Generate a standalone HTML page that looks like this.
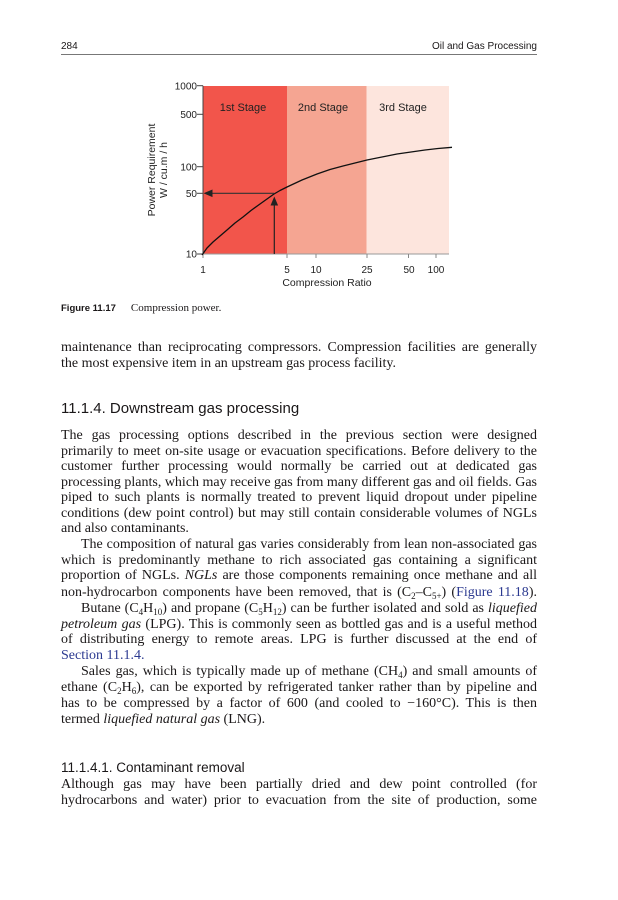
<!DOCTYPE html>
<html><head><meta charset="utf-8">
<style>
html,body{margin:0;padding:0;background:#fff;}
body{width:618px;height:900px;position:relative;overflow:hidden;color:#1a1718;}
.hd{position:absolute;font-family:"Liberation Sans","DejaVu Sans",sans-serif;font-size:10px;top:41px;}
.rule{position:absolute;left:61px;width:476px;top:54px;height:0;border-top:1px solid #777;}
.l{position:absolute;left:61px;width:476px;font-family:"Liberation Serif",serif;font-size:14px;line-height:16px;height:16px;white-space:nowrap;text-align:justify;text-align-last:justify;}
.l.e{text-align:left;text-align-last:left;}
.ind{display:inline-block;width:20px;}
.b{color:#2b3990;}
sub{font-size:9px;line-height:0;vertical-align:-3px;}
.h{position:absolute;left:61px;font-family:"Liberation Sans","DejaVu Sans",sans-serif;white-space:nowrap;}
.cap{position:absolute;top:298px;left:61px;white-space:nowrap;}
</style></head><body>
<div class="hd" style="left:61px;">284</div>
<div class="hd" style="right:81px;">Oil and Gas Processing</div>
<div class="rule"></div>

<svg style="position:absolute;left:0;top:0" width="618" height="300" xmlns="http://www.w3.org/2000/svg">
<rect x="203" y="86" width="84" height="168" fill="#f2554b"/>
<rect x="287" y="86" width="79.5" height="168" fill="#f5a592"/>
<rect x="366.5" y="86" width="82.5" height="168" fill="#fde5dd"/>
<g font-family="Liberation Sans, Arial, sans-serif" fill="#222">
<text x="243" y="111" font-size="11" text-anchor="middle">1st Stage</text>
<text x="323" y="111" font-size="11" text-anchor="middle">2nd Stage</text>
<text x="403" y="111" font-size="11" text-anchor="middle">3rd Stage</text>
</g>
<line x1="203" y1="85.7" x2="203" y2="254.5" stroke="#444" stroke-width="1"/>
<line x1="203" y1="254" x2="449" y2="254" stroke="#999" stroke-width="1"/>
<g stroke="#444" stroke-width="1">
<line x1="197" y1="85.7" x2="203" y2="85.7"/>
<line x1="197" y1="114.3" x2="203" y2="114.3"/>
<line x1="197" y1="166.7" x2="203" y2="166.7"/>
<line x1="197" y1="193.3" x2="203" y2="193.3"/>
<line x1="197" y1="254" x2="203" y2="254"/>
</g>
<g stroke="#888" stroke-width="1">
<line x1="203" y1="254" x2="203" y2="258"/>
<line x1="287" y1="254" x2="287" y2="258"/>
<line x1="316" y1="254" x2="316" y2="258"/>
<line x1="367" y1="254" x2="367" y2="258"/>
<line x1="408.5" y1="254" x2="408.5" y2="258"/>
<line x1="436" y1="254" x2="436" y2="258"/>
</g>
<g font-family="Liberation Sans, Arial, sans-serif" font-size="10" fill="#222">
<text x="197" y="89.5" text-anchor="end">1000</text>
<text x="197" y="118" text-anchor="end">500</text>
<text x="197" y="170.5" text-anchor="end">100</text>
<text x="197" y="197" text-anchor="end">50</text>
<text x="197" y="257.5" text-anchor="end">10</text>
<text x="203" y="273" text-anchor="middle">1</text>
<text x="287" y="273" text-anchor="middle">5</text>
<text x="316" y="273" text-anchor="middle">10</text>
<text x="367" y="273" text-anchor="middle">25</text>
<text x="409" y="273" text-anchor="middle">50</text>
<text x="436" y="273" text-anchor="middle">100</text>
<text x="327" y="286" text-anchor="middle" font-size="10.5">Compression Ratio</text>
<text transform="translate(155,170) rotate(-90)" text-anchor="middle" font-size="10.5">Power Requirement</text>
<text transform="translate(167,170) rotate(-90)" text-anchor="middle" font-size="10.5">W / cu.m / h</text>
</g>
<polyline fill="none" stroke="#111" stroke-width="1.3" stroke-linejoin="round" points="202,255 207,248 213,242 220,236 227,230 235,223 243,217 251,210.5 260,204 267,199 274,194 280,190.5 287,187 302,180 317,174 330,169.5 343,166 355,163 367,160 382,157 397,154 411,152 425,150 438,148.5 452,147.3"/>
<line x1="274.3" y1="254" x2="274.3" y2="204" stroke="#222" stroke-width="1.2"/>
<polygon points="274.3,196.5 270.5,205.5 278.1,205.5" fill="#222"/>
<line x1="211" y1="193.3" x2="274.3" y2="193.3" stroke="#333" stroke-width="1.2"/>
<polygon points="203.5,193.3 212.5,189.5 212.5,197.1" fill="#222"/>
</svg>

<div class="cap"><span style="font-family:'Liberation Sans','DejaVu Sans',sans-serif;font-weight:bold;font-size:9.5px;">Figure 11.17</span><span style="font-family:'Liberation Serif',serif;font-size:11px;margin-left:15px;">Compression power.</span></div>

<div class="l" style="top:340px;">maintenance than reciprocating compressors. Compression facilities are generally</div>
<div class="l e" style="top:356px;">the most expensive item in an upstream gas process facility.</div>

<div class="h" style="top:400px;font-size:15px;">11.1.4. Downstream gas processing</div>

<div class="l" style="top:427.5px;">The gas processing options described in the previous section were designed</div>
<div class="l" style="top:443.5px;">primarily to meet on-site usage or evacuation specifications. Before delivery to the</div>
<div class="l" style="top:459px;">customer further processing would normally be carried out at dedicated gas</div>
<div class="l" style="top:474.5px;">processing plants, which may receive gas from many different gas and oil fields. Gas</div>
<div class="l" style="top:490px;">piped to such plants is normally treated to prevent liquid dropout under pipeline</div>
<div class="l" style="top:505.5px;">conditions (dew point control) but may still contain considerable volumes of NGLs</div>
<div class="l e" style="top:521.3px;">and also contaminants.</div>
<div class="l" style="top:537px;"><span class="ind"></span>The composition of natural gas varies considerably from lean non-associated gas</div>
<div class="l" style="top:552.5px;">which is predominantly methane to rich associated gas containing a significant</div>
<div class="l" style="top:568px;">proportion of NGLs. <i>NGLs</i> are those components remaining once methane and all</div>
<div class="l" style="top:585px;">non-hydrocarbon components have been removed, that is (C<sub>2</sub>–C<sub>5+</sub>) (<span class="b">Figure 11.18</span>).</div>
<div class="l" style="top:600.5px;"><span class="ind"></span>Butane (C<sub>4</sub>H<sub>10</sub>) and propane (C<sub>5</sub>H<sub>12</sub>) can be further isolated and sold as <i>liquefied</i></div>
<div class="l" style="top:616.5px;"><i>petroleum gas</i> (LPG). This is commonly seen as bottled gas and is a useful method</div>
<div class="l" style="top:632px;">of distributing energy to remote areas. LPG is further discussed at the end of</div>
<div class="l e b" style="top:647.5px;">Section 11.1.4.</div>
<div class="l" style="top:663.7px;"><span class="ind"></span>Sales gas, which is typically made up of methane (CH<sub>4</sub>) and small amounts of</div>
<div class="l" style="top:679.7px;">ethane (C<sub>2</sub>H<sub>6</sub>), can be exported by refrigerated tanker rather than by pipeline and</div>
<div class="l" style="top:695.5px;">has to be compressed by a factor of 600 (and cooled to −160°C). This is then</div>
<div class="l e" style="top:712px;">termed <i>liquefied natural gas</i> (LNG).</div>

<div class="h" style="top:760px;font-size:13.5px;">11.1.4.1. Contaminant removal</div>
<div class="l" style="top:777px;">Although gas may have been partially dried and dew point controlled (for</div>
<div class="l" style="top:792.7px;">hydrocarbons and water) prior to evacuation from the site of production, some</div>
</body></html>
